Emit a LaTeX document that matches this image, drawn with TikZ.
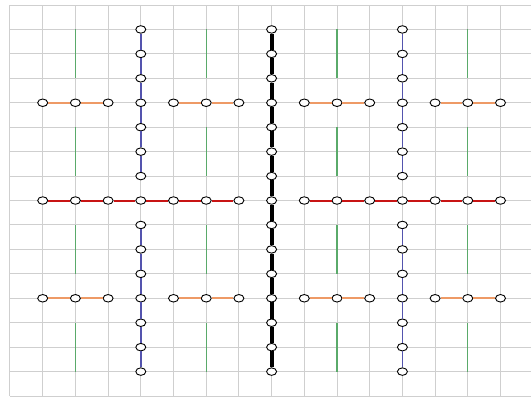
\documentclass[tikz,border=0pt]{standalone}
\usepackage{tikz}
\usetikzlibrary{shapes.geometric}
\definecolor{GridGray}{HTML}{CFCFCF}
\definecolor{RibRed}{HTML}{C81414}
\definecolor{MastBlue}{HTML}{5454AE}
\definecolor{TwigOrange}{HTML}{EE9A66}
\definecolor{StemGreen}{HTML}{5AAA6A}
\begin{document}
\begin{tikzpicture}[
  x=32.7pt,y=-24.44pt,
  bead/.style={ellipse,draw=black,fill=white,line width=0.9pt,inner sep=0pt,minimum width=10pt,minimum height=7.5pt},
  gridline/.style={GridGray,line width=1pt},
  spine/.style={line width=3.8pt,black},
  rib/.style={line width=2pt,RibRed},
  mast/.style={line width=1.6pt,MastBlue},
  twig/.style={line width=2pt,TwigOrange},
  stem/.style={line width=1.2pt,StemGreen}
]
\fill[white] (-0.3058,-0.2046) rectangle (15.933,16.080);
\useasboundingbox (-0.3058,-0.2046) rectangle (15.933,16.080);
% background grid
\foreach \c in {0,...,15} \draw[gridline] (\c,0) -- (\c,16);
\foreach \r in {0,...,16} \draw[gridline] (0,\r) -- (15.933,\r);
% green bars
\foreach \c in {2,6,10,14}
  \foreach \a in {1,5,9,13}
    \draw[stem] (\c,\a) -- (\c,{\a+2});
% central spine
\foreach \r in {1,...,15} \node[bead] (k\r) at (8,\r) {};
\foreach \r in {1,...,14}{\pgfmathtruncatemacro\n{\r+1}\draw[spine] (k\r) -- (k\n);}
% red ribs
\foreach \c in {1,...,7,9,10,...,15} \node[bead] (r\c) at (\c,8) {};
\foreach \c in {1,...,6,9,10,...,14}{\pgfmathtruncatemacro\n{\c+1}\draw[rib] (r\c) -- (r\n);}
% blue masts
\foreach \c in {4,12}
  \foreach \r in {1,...,7,9,10,...,15} \node[bead] (m\c-\r) at (\c,\r) {};
\foreach \c in {4,12}
  \foreach \r in {1,...,6,9,10,...,14}{\pgfmathtruncatemacro\n{\r+1}\draw[mast] (m\c-\r) -- (m\c-\n);}
% orange twigs
\foreach \r in {4,12}
  \foreach \a in {1,5,9,13}{
    \pgfmathtruncatemacro\b{\a+1}\pgfmathtruncatemacro\e{\a+2}
    \node[bead] (o\r-\a) at (\a,\r) {};
    \node[bead] (o\r-\b) at (\b,\r) {};
    \node[bead] (o\r-\e) at (\e,\r) {};
    \draw[twig] (o\r-\a) -- (o\r-\b);
    \draw[twig] (o\r-\b) -- (o\r-\e);
  }
\end{tikzpicture}
\end{document}
